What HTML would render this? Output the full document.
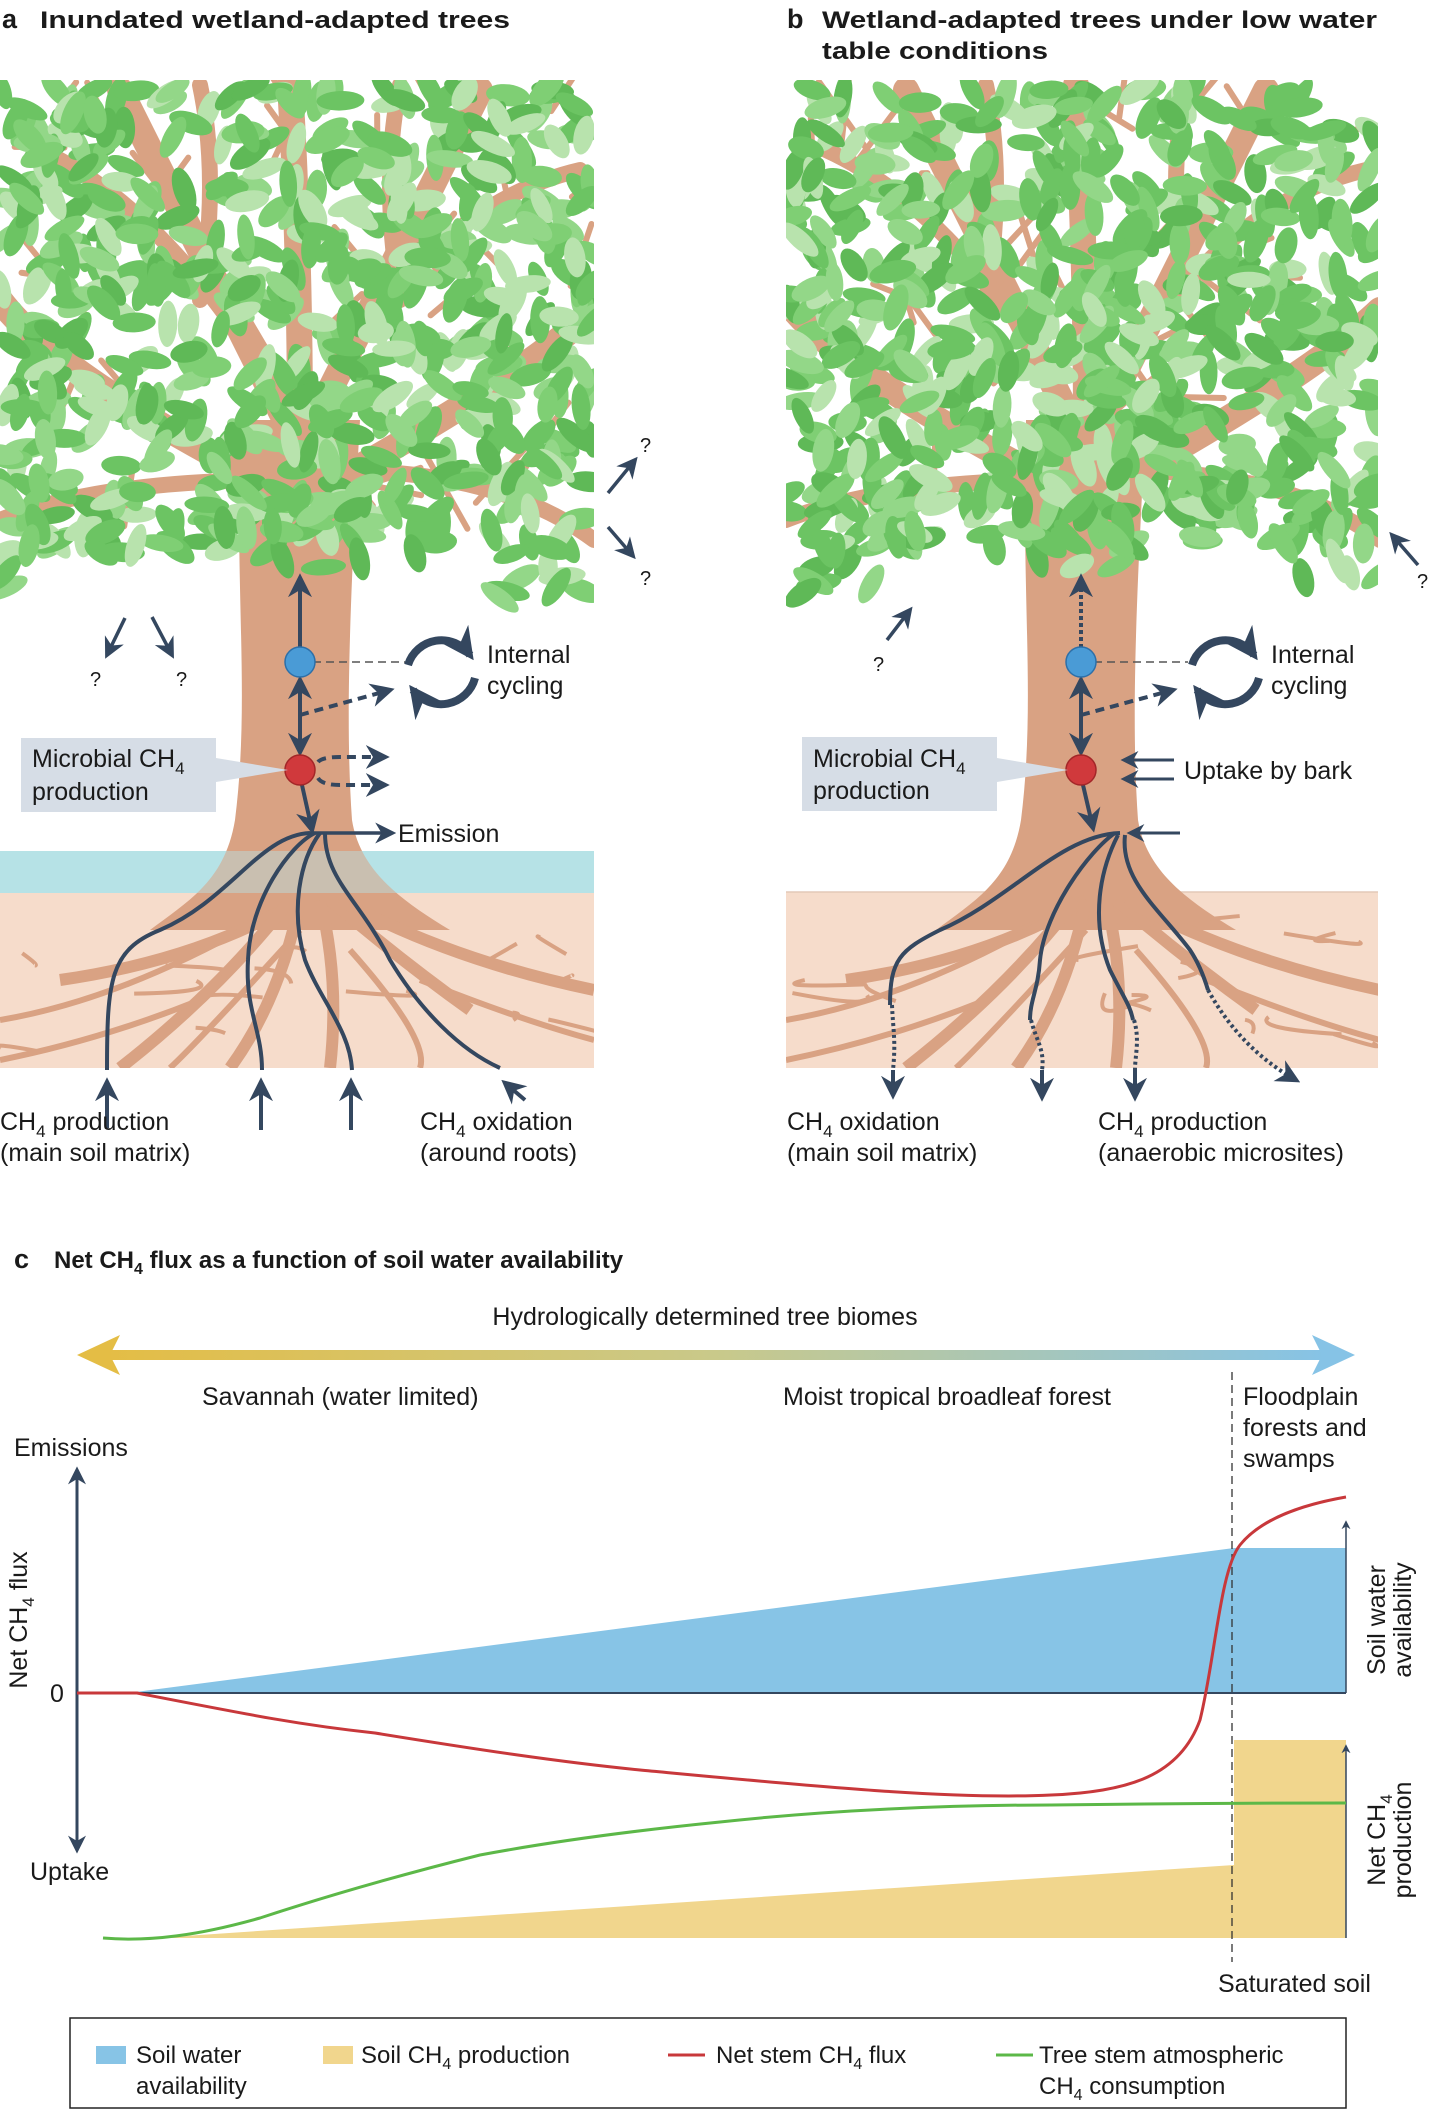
<!DOCTYPE html>
<html><head><meta charset="utf-8"><style>
html,body{margin:0;padding:0;background:#fff;}
svg{display:block;font-family:"Liberation Sans",sans-serif;}
</style></head><body>
<svg id="s" width="1430" height="2110" viewBox="0 0 1430 2110" xmlns="http://www.w3.org/2000/svg">
<defs>
<marker id="ah" viewBox="0 0 10 10" refX="8" refY="5" markerWidth="4" markerHeight="4" orient="auto-start-reverse"><path d="M0,0 L10,5 L0,10 L3,5 z" fill="#34475f"/></marker>
<marker id="ahs" viewBox="0 0 10 10" refX="8" refY="5" markerWidth="6" markerHeight="6" orient="auto-start-reverse"><path d="M0,0 L10,5 L0,10 L3,5 z" fill="#34475f"/></marker>
<linearGradient id="gr" x1="0" x2="1" y1="0" y2="0"><stop offset="0" stop-color="#e4bd45"/><stop offset="0.5" stop-color="#c9c98a"/><stop offset="1" stop-color="#86c3e6"/></linearGradient>
<clipPath id="ca"><rect x="0" y="80" width="594" height="988"/></clipPath>
<clipPath id="cb"><rect x="786" y="80" width="592" height="988"/></clipPath>
</defs>

<!-- titles -->
<text x="2" y="28" font-size="27" font-weight="bold" fill="#1a1a1a">a</text>
<text x="40" y="28" font-size="24" font-weight="bold" fill="#1a1a1a" textLength="470" lengthAdjust="spacingAndGlyphs">Inundated wetland-adapted trees</text>
<text x="787" y="28" font-size="27" font-weight="bold" fill="#1a1a1a">b</text>
<text x="822" y="28" font-size="24" font-weight="bold" fill="#1a1a1a" textLength="555" lengthAdjust="spacingAndGlyphs">Wetland-adapted trees under low water</text>
<text x="822" y="59" font-size="24" font-weight="bold" fill="#1a1a1a" textLength="226" lengthAdjust="spacingAndGlyphs">table conditions</text>

<!-- soil & water a -->
<rect x="0" y="892" width="594" height="176" fill="#f6dccb"/>
<rect x="0" y="851" width="594" height="42" fill="#b6e2e6"/>
<!-- soil b -->
<rect x="786" y="892" width="592" height="176" fill="#f6dccb"/>
<line x1="786" y1="892" x2="1378" y2="892" stroke="#e3c9b8" stroke-width="1.5"/>

<g id="ta" clip-path="url(#ca)"></g>
<g id="tb" clip-path="url(#cb)"></g>
<rect x="0" y="851" width="594" height="42" fill="#b6e2e6" fill-opacity="0.45"/>

<!-- panel a overlays -->
<g fill="none" stroke="#34475f" stroke-width="4">
 <line x1="300" y1="648" x2="300" y2="578" marker-end="url(#ahs)"/>
 <line x1="300" y1="680" x2="300" y2="752" marker-start="url(#ahs)" marker-end="url(#ahs)"/>
 <line x1="300" y1="715" x2="390" y2="690" stroke-dasharray="9,6" marker-end="url(#ahs)"/>
 <path d="M318,762 Q322,757 340,757 L385,757" stroke-dasharray="9,6" marker-end="url(#ahs)"/>
 <path d="M318,778 Q322,785 340,785 L385,785" stroke-dasharray="9,6" marker-end="url(#ahs)"/>
 <line x1="302" y1="785" x2="312" y2="830" marker-end="url(#ahs)"/>
 <line x1="310" y1="833" x2="392" y2="833" marker-end="url(#ahs)" stroke-width="3.5"/>
 <path d="M310,833 C260,835 230,900 160,930 C110,950 107,980 107,1070" />
 <path d="M315,833 C290,845 250,900 248,960 C245,1010 262,1030 262,1070"/>
 <path d="M320,833 C300,860 290,910 305,960 C320,1000 350,1030 352,1070"/>
 <path d="M325,833 C325,880 360,900 390,960 C420,1010 460,1050 500,1068"/>
 <line x1="107" y1="1128" x2="107" y2="1082" marker-end="url(#ahs)"/>
 <line x1="261" y1="1130" x2="261" y2="1082" marker-end="url(#ahs)"/>
 <line x1="351" y1="1130" x2="351" y2="1082" marker-end="url(#ahs)"/>
 <line x1="525" y1="1100" x2="505" y2="1083" marker-end="url(#ahs)"/>
 <line x1="125" y1="618" x2="107" y2="655" stroke-width="3.5" marker-end="url(#ahs)"/>
 <line x1="152" y1="617" x2="172" y2="655" stroke-width="3.5" marker-end="url(#ahs)"/>
 <line x1="608" y1="493" x2="635" y2="460" stroke-width="3.5" marker-end="url(#ahs)"/>
 <line x1="608" y1="527" x2="633" y2="556" stroke-width="3.5" marker-end="url(#ahs)"/>
 <path d="M408,665 A35,35 0 0 1 470,655" stroke-width="8" marker-end="url(#ah)"/>
 <path d="M475,678 A35,35 0 0 1 413,690" stroke-width="8" marker-end="url(#ah)"/>
</g>
<line x1="313" y1="662" x2="405" y2="662" stroke="#555" stroke-width="1.5" stroke-dasharray="8,5"/>
<circle cx="300" cy="662" r="15" fill="#4a9bd6" stroke="#2d6fa8" stroke-width="1.5"/>
<circle cx="300" cy="770" r="15" fill="#d0393c" stroke="#a32628" stroke-width="1.5"/>
<rect x="21" y="738" width="195" height="74" fill="#d6dde6"/>
<polygon points="216,758 288,770 216,782" fill="#d6dde6"/>
<g font-size="25" fill="#1a1a1a">
 <text x="32" y="767">Microbial CH<tspan font-size="17" dy="7">4</tspan></text>
 <text x="32" y="800">production</text>
 <text x="487" y="663">Internal</text>
 <text x="487" y="694">cycling</text>
 <text x="398" y="842">Emission</text>
 <text x="0" y="1130">CH<tspan font-size="17" dy="7">4</tspan><tspan dy="-7"> production</tspan></text>
 <text x="0" y="1161">(main soil matrix)</text>
 <text x="420" y="1130">CH<tspan font-size="17" dy="7">4</tspan><tspan dy="-7"> oxidation</tspan></text>
 <text x="420" y="1161">(around roots)</text>
 <text x="90" y="686" font-size="20">?</text>
 <text x="176" y="686" font-size="20">?</text>
 <text x="640" y="452" font-size="20">?</text>
 <text x="640" y="585" font-size="20">?</text>
</g>

<!-- panel b overlays -->
<g fill="none" stroke="#34475f" stroke-width="4">
 <line x1="1081" y1="648" x2="1081" y2="578" stroke-dasharray="4,3" marker-end="url(#ahs)"/>
 <line x1="1081" y1="680" x2="1081" y2="752" marker-start="url(#ahs)" marker-end="url(#ahs)"/>
 <line x1="1081" y1="715" x2="1173" y2="690" stroke-dasharray="9,6" marker-end="url(#ahs)"/>
 <line x1="1174" y1="760" x2="1124" y2="760" stroke-width="3" marker-end="url(#ahs)"/>
 <line x1="1174" y1="779" x2="1124" y2="779" stroke-width="3" marker-end="url(#ahs)"/>
 <line x1="1180" y1="833" x2="1130" y2="833" stroke-width="3" marker-end="url(#ahs)"/>
 <line x1="1083" y1="785" x2="1093" y2="828" marker-end="url(#ahs)"/>
 <path d="M1120,833 C1060,835 1010,900 940,930 C900,950 890,960 890,1005"/>
 <path d="M1115,833 C1090,850 1045,910 1040,960 C1038,990 1030,1000 1030,1020"/>
 <path d="M1118,835 C1100,870 1090,920 1110,970 C1125,1000 1130,1005 1133,1020"/>
 <path d="M1125,835 C1120,880 1160,910 1190,950 C1200,965 1205,980 1208,990"/>
 <path d="M892,1005 C893,1030 896,1040 893,1070" stroke-dasharray="3,3"/>
 <path d="M1031,1020 C1036,1040 1045,1050 1042,1070" stroke-dasharray="3,3"/>
 <path d="M1134,1020 C1140,1040 1135,1055 1135,1070" stroke-dasharray="3,3"/>
 <path d="M1208,990 C1230,1030 1260,1060 1296,1080" stroke-dasharray="3,3" marker-end="url(#ahs)"/>
 <line x1="893" y1="1070" x2="893" y2="1095" marker-end="url(#ahs)"/>
 <line x1="1042" y1="1070" x2="1042" y2="1097" marker-end="url(#ahs)"/>
 <line x1="1135" y1="1070" x2="1135" y2="1097" marker-end="url(#ahs)"/>
 <line x1="887" y1="640" x2="910" y2="610" stroke-width="3.5" marker-end="url(#ahs)"/>
 <line x1="1418" y1="565" x2="1392" y2="535" stroke-width="3.5" marker-end="url(#ahs)"/>
 <path d="M1192,665 A35,35 0 0 1 1254,655" stroke-width="8" marker-end="url(#ah)"/>
 <path d="M1259,678 A35,35 0 0 1 1197,690" stroke-width="8" marker-end="url(#ah)"/>
</g>
<line x1="1094" y1="662" x2="1188" y2="662" stroke="#555" stroke-width="1.5" stroke-dasharray="8,5"/>
<circle cx="1081" cy="662" r="15" fill="#4a9bd6" stroke="#2d6fa8" stroke-width="1.5"/>
<circle cx="1081" cy="770" r="15" fill="#d0393c" stroke="#a32628" stroke-width="1.5"/>
<rect x="802" y="737" width="195" height="74" fill="#d6dde6"/>
<polygon points="997,758 1068,770 997,782" fill="#d6dde6"/>
<g font-size="25" fill="#1a1a1a">
 <text x="813" y="767">Microbial CH<tspan font-size="17" dy="7">4</tspan></text>
 <text x="813" y="799">production</text>
 <text x="1271" y="663">Internal</text>
 <text x="1271" y="694">cycling</text>
 <text x="1184" y="779">Uptake by bark</text>
 <text x="787" y="1130">CH<tspan font-size="17" dy="7">4</tspan><tspan dy="-7"> oxidation</tspan></text>
 <text x="787" y="1161">(main soil matrix)</text>
 <text x="1098" y="1130">CH<tspan font-size="17" dy="7">4</tspan><tspan dy="-7"> production</tspan></text>
 <text x="1098" y="1161">(anaerobic microsites)</text>
 <text x="873" y="671" font-size="20">?</text>
 <text x="1417" y="588" font-size="20">?</text>
</g>

<!-- panel c -->
<text x="14" y="1268" font-size="27" font-weight="bold" fill="#1a1a1a">c</text>
<text x="54" y="1268" font-size="24" font-weight="bold" fill="#1a1a1a">Net CH<tspan font-size="16" dy="6">4</tspan><tspan dy="-6"> flux as a function of soil water availability</tspan></text>
<text x="705" y="1325" font-size="25" text-anchor="middle" fill="#1a1a1a">Hydrologically determined tree biomes</text>
<rect x="105" y="1350" width="1220" height="10" fill="url(#gr)"/>
<polygon points="77,1355 120,1335 110,1355 120,1375" fill="#e4bd45"/>
<polygon points="1355,1355 1312,1335 1322,1355 1312,1375" fill="#86c3e6"/>
<g font-size="25" fill="#1a1a1a">
 <text x="202" y="1405">Savannah (water limited)</text>
 <text x="783" y="1405">Moist tropical broadleaf forest</text>
 <text x="1243" y="1405">Floodplain</text>
 <text x="1243" y="1436">forests and</text>
 <text x="1243" y="1467">swamps</text>
 <text x="14" y="1456">Emissions</text>
 <text x="30" y="1880">Uptake</text>
 <text x="50" y="1702">0</text>
 <text x="1218" y="1992">Saturated soil</text>
 <text transform="translate(27,1620) rotate(-90)" text-anchor="middle">Net CH<tspan font-size="17" dy="7">4</tspan><tspan dy="-7"> flux</tspan></text>
 <text transform="translate(1385,1620) rotate(-90)" text-anchor="middle">Soil water</text>
 <text transform="translate(1411,1620) rotate(-90)" text-anchor="middle">availability</text>
 <text transform="translate(1385,1840) rotate(-90)" text-anchor="middle">Net CH<tspan font-size="17" dy="7">4</tspan></text>
 <text transform="translate(1411,1840) rotate(-90)" text-anchor="middle">production</text>
</g>
<polygon points="128,1693 1234,1548 1346,1548 1346,1693" fill="#87c4e6"/>
<polygon points="155,1938 1234,1865 1234,1740 1346,1740 1346,1938" fill="#f1d68d"/>
<line x1="77" y1="1693" x2="1346" y2="1693" stroke="#34475f" stroke-width="2"/>
<line x1="77" y1="1470" x2="77" y2="1850" stroke="#34475f" stroke-width="3" marker-start="url(#ahs)" marker-end="url(#ahs)"/>
<line x1="1346" y1="1693" x2="1346" y2="1522" stroke="#34475f" stroke-width="1.5" marker-end="url(#ahs)"/>
<line x1="1346" y1="1938" x2="1346" y2="1746" stroke="#34475f" stroke-width="1.5" marker-end="url(#ahs)"/>
<line x1="1232" y1="1372" x2="1232" y2="1962" stroke="#333" stroke-width="1.3" stroke-dasharray="8,5"/>
<path d="M77,1693 L137,1693 C250,1715 300,1725 375,1733 C480,1750 560,1762 640,1770 C800,1785 950,1800 1051,1795 C1130,1792 1180,1775 1200,1720 C1215,1660 1220,1570 1240,1545 C1260,1520 1300,1505 1346,1497" fill="none" stroke="#c8383b" stroke-width="3"/>
<path d="M103,1938 C150,1942 200,1935 260,1918 C330,1895 400,1875 480,1855 C560,1840 640,1830 720,1822 C830,1810 950,1805 1051,1805 C1200,1803 1300,1803 1346,1803" fill="none" stroke="#5cb848" stroke-width="3"/>

<!-- legend -->
<rect x="70" y="2018" width="1276" height="90" fill="none" stroke="#222" stroke-width="1.5"/>
<rect x="96" y="2046" width="30" height="18" fill="#87c4e6"/>
<rect x="323" y="2046" width="30" height="18" fill="#f1d68d"/>
<line x1="668" y1="2055" x2="705" y2="2055" stroke="#c8383b" stroke-width="3"/>
<line x1="996" y1="2055" x2="1033" y2="2055" stroke="#5cb848" stroke-width="3"/>
<g font-size="24" fill="#1a1a1a">
 <text x="136" y="2063">Soil water</text>
 <text x="136" y="2094">availability</text>
 <text x="361" y="2063">Soil CH<tspan font-size="16" dy="6">4</tspan><tspan dy="-6"> production</tspan></text>
 <text x="716" y="2063">Net stem CH<tspan font-size="16" dy="6">4</tspan><tspan dy="-6"> flux</tspan></text>
 <text x="1039" y="2063">Tree stem atmospheric</text>
 <text x="1039" y="2094">CH<tspan font-size="16" dy="6">4</tspan><tspan dy="-6"> consumption</tspan></text>
</g>
</svg>
<script>
(function(){
var NS="http://www.w3.org/2000/svg",g;
var seed=7;function r(){seed=(seed*16807)%2147483647;return (seed-1)/2147483646;}
function el(n,a){var e=document.createElementNS(NS,n);for(var k in a)e.setAttribute(k,a[k]);g.appendChild(e);return e;}
var brown="#d9a283";
function tree(ox,id){
 g=document.getElementById(id);
 el("path",{d:"M"+(ox+240)+",420 C"+(ox+235)+",600 "+(ox+250)+",700 "+(ox+235)+",820 C"+(ox+225)+",880 "+(ox+190)+",900 "+(ox+150)+",930 L"+(ox+450)+",930 C"+(ox+400)+",900 "+(ox+360)+",870 "+(ox+352)+",820 C"+(ox+345)+",720 "+(ox+350)+",600 "+(ox+360)+",420 Z",fill:brown});
 var roots=[[300,900,200,960,60,980],[290,900,220,990,120,1068],[300,900,280,1000,230,1068],[320,900,340,980,330,1068],[330,900,400,960,470,1010],[340,900,450,960,594,990],[260,920,120,1000,0,1020],[300,930,200,1040,170,1068],[350,950,430,1040,420,1068],[200,1000,100,1040,0,1060],[420,980,520,1020,594,1040]];
 roots.forEach(function(p,i){el("path",{d:"M"+(ox+p[0])+","+p[1]+" Q"+(ox+p[2])+","+p[3]+" "+(ox+p[4])+","+p[5],fill:"none",stroke:brown,"stroke-width":i<6?12:6});});
 for(var i=0;i<14;i++){var x=ox+r()*594,y=930+r()*130;el("path",{d:"M"+x+","+y+" q"+(r()*80-40)+","+(r()*30-15)+" "+(r()*160-80)+","+(r()*40-20),fill:"none",stroke:brown,"stroke-width":4});}
 var br=[[300,500,60,380,0,300],[300,500,520,380,594,310],[300,450,200,250,120,90],[300,450,400,250,480,90],[300,430,300,250,290,85],[280,480,100,480,0,520],[330,470,500,470,594,540],[250,350,150,200,40,150],[350,350,450,200,580,170],[200,300,220,180,200,85],[400,300,380,180,400,85]];
 br.forEach(function(p,i){el("path",{d:"M"+(ox+p[0])+","+p[1]+" Q"+(ox+p[2])+","+p[3]+" "+(ox+p[4])+","+p[5],fill:"none",stroke:brown,"stroke-width":i<5?26:16,"stroke-linecap":"round"});});
 for(var i=0;i<40;i++){var x=ox+20+r()*554,y=100+r()*440;el("path",{d:"M"+x+","+y+" l"+(r()*120-60)+","+(r()*-80),fill:"none",stroke:brown,"stroke-width":6,"stroke-linecap":"round"});}
 var cols=["#6cc463","#7fcf74","#5fb957","#93d788","#b8e3ad","#6cc463"];
 for(var i=0;i<720;i++){
  var x=ox+r()*594,y=88+r()*510;
  var cx=x-(ox+297);
  if(y>470){var lim=470+(Math.abs(cx)>200?120:(Math.abs(cx)<70?60:30))*r(); if(y>lim+60) continue;}
  var a=r()*180;
  el("ellipse",{cx:x,cy:y,rx:18+r()*6,ry:8+r()*3,fill:cols[Math.floor(r()*cols.length)],transform:"rotate("+a+" "+x+" "+y+")"});
 }
}
tree(0,"ta");tree(786,"tb");
})();
</script>
</body></html>
